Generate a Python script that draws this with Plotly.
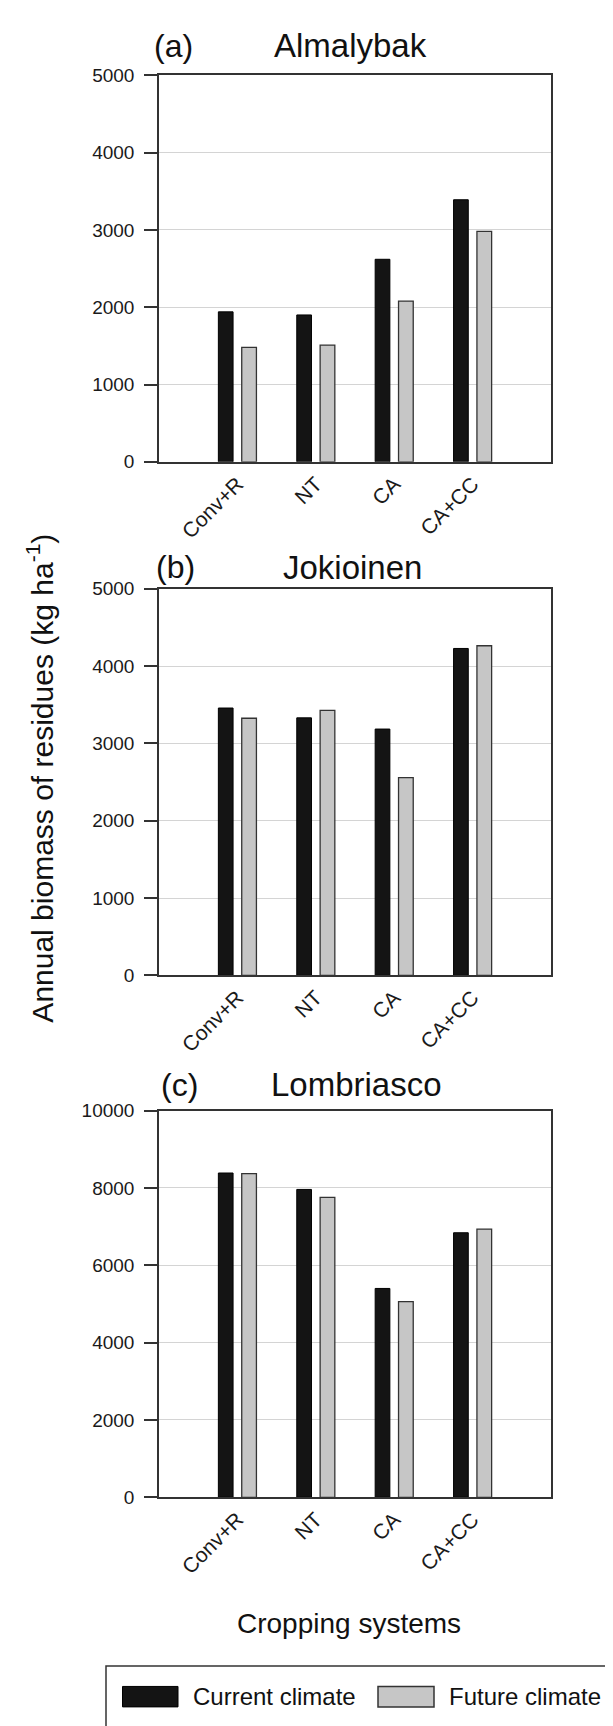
import plotly.graph_objects as go

# ---- data ----
systems = ["Conv+R", "NT", "CA", "CA+CC"]
sites = ["Almalybak", "Jokioinen", "Lombriasco"]
panel_tags = ["(a)", "(b)", "(c)"]
almalybak_current = [1940, 1900, 2620, 3390]
almalybak_future = [1480, 1510, 2080, 2980]
jokioinen_current = [3457, 3330, 3185, 4227]
jokioinen_future = [3325, 3427, 2558, 4262]
lombriasco_current = [8385, 7960, 5400, 6840]
lombriasco_future = [8370, 7755, 5060, 6935]
y_max = [5000, 5000, 10000]
y_dtick = [1000, 1000, 2000]
series_names = ["Current climate", "Future climate"]

current = [almalybak_current, jokioinen_current, lombriasco_current]
future = [almalybak_future, jokioinen_future, lombriasco_future]

W, H = 613, 1726
FONT = "Liberation Sans, Arial, sans-serif"
C_CUR = "#141414"
C_FUT = "#c6c6c6"
AX = "#333333"


def xp(px):
    return px / W


def yp(py):
    return 1 - py / H


# panel pixel boxes (top, bottom)
x_left, x_right = 151, 543
panels_px = [(58, 449.3), (577.7, 969.2), (1106, 1497.5)]

fig = go.Figure()
for i in range(3):
    ax = "" if i == 0 else str(i + 1)
    fig.add_trace(go.Bar(x=systems, y=current[i], name=series_names[0],
                         marker=dict(color=C_CUR, line=dict(color="#000000", width=1)),
                         xaxis="x" + ax, yaxis="y" + ax, showlegend=False))
    fig.add_trace(go.Bar(x=systems, y=future[i], name=series_names[1],
                         marker=dict(color=C_FUT, line=dict(color="#333333", width=1.3)),
                         xaxis="x" + ax, yaxis="y" + ax, showlegend=False))

layout = dict(
    width=W, height=H,
    margin=dict(l=0, r=0, t=0, b=0),
    paper_bgcolor="white", plot_bgcolor="white",
    barmode="group", bargap=0.404, bargroupgap=0.371,
    font=dict(family=FONT, color="#1a1a1a"),
    showlegend=False,
)
for i, (top, bot) in enumerate(panels_px):
    ax = "" if i == 0 else str(i + 1)
    layout["xaxis" + ax] = dict(
        domain=[xp(x_left), xp(x_right)], anchor="y" + ax,
        type="category", categoryorder="array", categoryarray=systems,
        range=[-1, 4], showline=True, mirror=True, linecolor=AX, linewidth=1.5,
        ticks="", showgrid=False, tickangle=-45,
        tickfont=dict(size=21, family=FONT, color="#1a1a1a"),
    )
    layout["yaxis" + ax] = dict(
        domain=[yp(bot), yp(top)], anchor="x" + ax,
        range=[0, y_max[i]], dtick=y_dtick[i], tick0=0, tickformat="d",
        showline=True, mirror=True, linecolor=AX, linewidth=1.5,
        ticks="outside", ticklen=13, tickcolor=AX, tickwidth=1.5,
        ticklabelstandoff=6,
        showgrid=True, gridcolor="#d4d4d4", gridwidth=1.2, zeroline=False,
        tickfont=dict(size=19, family=FONT, color="#1a1a1a"),
    )
fig.update_layout(**layout)

annotations = []
title_y = [28, 556, 1080]
title_x = [342, 344, 348]
tag_x = [144, 146, 151]
for i in range(3):
    annotations.append(dict(text=panel_tags[i], x=xp(tag_x[i]), y=yp(title_y[i]),
                            xref="paper", yref="paper", xanchor="left", yanchor="middle",
                            showarrow=False, font=dict(size=32, family=FONT, color="#111")))
    annotations.append(dict(text=sites[i], x=xp(title_x[i]), y=yp(title_y[i]),
                            xref="paper", yref="paper", xanchor="center", yanchor="middle",
                            showarrow=False, font=dict(size=33, family=FONT, color="#111")))

annotations.append(dict(text="Annual biomass of residues (kg ha<sup>-1</sup>)",
                        x=xp(32), y=yp(770), xref="paper", yref="paper",
                        xanchor="center", yanchor="middle", textangle=-90,
                        showarrow=False, font=dict(size=30, family=FONT, color="#111")))
annotations.append(dict(text="Cropping systems", x=xp(341), y=yp(1625),
                        xref="paper", yref="paper", xanchor="center", yanchor="middle",
                        showarrow=False, font=dict(size=28, family=FONT, color="#111")))

# custom legend
annotations.append(dict(text=series_names[0], x=xp(183), y=yp(1699), xref="paper", yref="paper",
                        xanchor="left", yanchor="middle", showarrow=False,
                        font=dict(size=24, family=FONT, color="#111")))
annotations.append(dict(text=series_names[1], x=xp(439), y=yp(1699), xref="paper", yref="paper",
                        xanchor="left", yanchor="middle", showarrow=False,
                        font=dict(size=24, family=FONT, color="#111")))
shapes = [
    dict(type="rect", xref="paper", yref="paper", x0=xp(98), x1=xp(640), y0=yp(1760), y1=yp(1668.3),
         line=dict(color="#333", width=1.5), fillcolor="rgba(0,0,0,0)"),
    dict(type="rect", xref="paper", yref="paper", x0=xp(114.5), x1=xp(170), y0=yp(1709.7), y1=yp(1689),
         line=dict(color="#000", width=1), fillcolor=C_CUR),
    dict(type="rect", xref="paper", yref="paper", x0=xp(370), x1=xp(426), y0=yp(1709.7), y1=yp(1689),
         line=dict(color="#333", width=1.5), fillcolor=C_FUT),
]
fig.update_layout(annotations=annotations, shapes=shapes)

fig.write_html("out.html")
